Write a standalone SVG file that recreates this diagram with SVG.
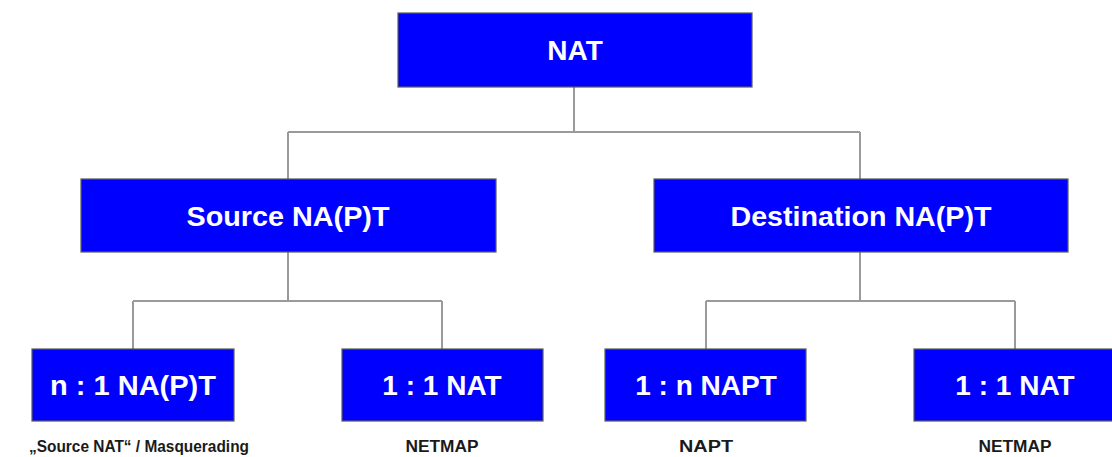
<svg xmlns="http://www.w3.org/2000/svg" width="1112" height="457" viewBox="0 0 1112 457">
  <style>
    .box { fill: #0000ff; stroke: #5a5a5a; stroke-width: 1.2; }
    .title { fill: #ffffff; font-family: "Liberation Sans", Arial, sans-serif; font-weight: bold; font-size: 28px; text-anchor: middle; }
    .note { fill: #1a1a1a; font-family: "Liberation Sans", Arial, sans-serif; font-weight: bold; font-size: 16px; text-anchor: middle; }
    .link { fill: none; stroke: #9a9a9a; stroke-width: 2; }
  </style>
  <rect width="1112" height="457" fill="#ffffff"/>

  <!-- tree connectors -->
  <g id="connectors">
    <path class="link" d="M574 87 V132 M288 132 H860 M288 132 V179 M860 132 V179"/>
    <path class="link" d="M288 252 V301 M133 301 H442 M133 301 V349 M442 301 V349"/>
    <path class="link" d="M860 252 V301 M706 301 H1015 M706 301 V349 M1015 301 V349"/>
  </g>

  <g id="nat">
    <rect class="box" x="398" y="13" width="354" height="74"/>
    <text class="title" x="575" y="60">NAT</text>
  </g>

  <g id="source-napt">
    <rect class="box" x="81" y="179" width="415" height="73"/>
    <text class="title" x="288" y="226" textLength="203" lengthAdjust="spacingAndGlyphs">Source NA(P)T</text>
  </g>

  <g id="destination-napt">
    <rect class="box" x="654" y="179" width="414" height="73"/>
    <text class="title" x="861" y="226" textLength="261" lengthAdjust="spacingAndGlyphs">Destination NA(P)T</text>
  </g>

  <g id="n-to-1">
    <rect class="box" x="32" y="349" width="202" height="72"/>
    <text class="title" x="133" y="395" textLength="166" lengthAdjust="spacingAndGlyphs">n : 1 NA(P)T</text>
    <text class="note" x="139" y="452" textLength="220" lengthAdjust="spacingAndGlyphs">„Source NAT“ / Masquerading</text>
  </g>

  <g id="src-1-to-1">
    <rect class="box" x="342" y="349" width="201" height="72"/>
    <text class="title" x="442" y="395">1 : 1 NAT</text>
    <text class="note" x="442" y="452" textLength="73" lengthAdjust="spacingAndGlyphs">NETMAP</text>
  </g>

  <g id="1-to-n">
    <rect class="box" x="605" y="349" width="201" height="72"/>
    <text class="title" x="706" y="395">1 : n NAPT</text>
    <text class="note" x="706" y="452" textLength="54" lengthAdjust="spacingAndGlyphs">NAPT</text>
  </g>

  <g id="dst-1-to-1">
    <rect class="box" x="914" y="349" width="202" height="72"/>
    <text class="title" x="1015" y="395">1 : 1 NAT</text>
    <text class="note" x="1015" y="452" textLength="73" lengthAdjust="spacingAndGlyphs">NETMAP</text>
  </g>
</svg>
